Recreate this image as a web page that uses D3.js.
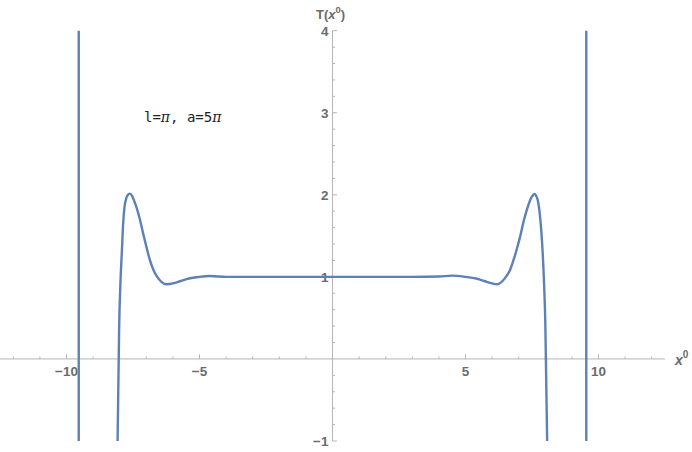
<!DOCTYPE html>
<html>
<head>
<meta charset="utf-8">
<script src="https://cdn.jsdelivr.net/npm/d3@7"></script>
<style>
  body { margin: 0; background: #fff; }
  svg { display: block; }
</style>
</head>
<body>
<div id="chart"></div>
<script>
// values
const centreX = [-8.08, -8.02, -7.97, -7.92, -7.87, -7.82, -7.76, -7.69, -7.62, -7.54, -7.45, -7.35,
    -7.24, -7.12, -6.99, -6.87, -6.74, -6.59, -6.43, -6.24, -6.0, -5.7, -5.4, -5.0, -4.6, -4.0,
    -3.0, -2.0, -1.0, 0, 1.0, 2.0, 3.0, 4.0, 4.5, 5.0, 5.4, 5.7, 6.0, 6.18, 6.36, 6.52, 6.67,
    6.8, 6.93, 7.06, 7.18, 7.3, 7.4, 7.5, 7.58, 7.65, 7.72, 7.78, 7.84, 7.9, 7.95, 8.0, 8.07];
const centreT = [-1.0, 0.4, 0.95, 1.3, 1.65, 1.85, 1.95, 2.0, 2.015, 1.99, 1.92, 1.83,
    1.7, 1.53, 1.36, 1.21, 1.09, 1.0, 0.94, 0.91, 0.92, 0.95, 0.98, 1.0, 1.01, 1.0,
    1.0, 1.0, 1.0, 1.0, 1.0, 1.0, 1.0, 1.005, 1.015, 1.0, 0.98, 0.95, 0.92, 0.91, 0.94, 1.0, 1.08,
    1.2, 1.34, 1.5, 1.67, 1.81, 1.91, 1.98, 2.01, 1.99, 1.93, 1.8, 1.6, 1.3, 0.95, 0.45, -1.0];
const poleX = [-9.54, 9.54];

const xTicks = [-10, -5, 5, 10];
const yTicks = [-1, 1, 2, 3, 4];

const width = 692;
const height = 452;

const x = d3.scaleLinear().domain([-12.5, 12.5]).range([0, 665]);
const y = d3.scaleLinear().domain([-1, 4]).range([441, 30.7]);

const svg = d3.select("#chart")
    .append("svg")
    .attr("width", width)
    .attr("height", height);

const axisColor = "#b5b5b5";
const labelColor = "#6b6b6b";

// x axis
const gx = svg.append("g");
gx.append("line")
    .attr("x1", x(-12.5)).attr("x2", x(12.5))
    .attr("y1", y(0)).attr("y2", y(0))
    .attr("stroke", axisColor);
gx.selectAll("line.minor")
    .data(d3.range(-12, 13).filter(d => d !== 0))
    .join("line")
    .attr("class", "minor")
    .attr("x1", d => x(d)).attr("x2", d => x(d))
    .attr("y1", y(0))
    .attr("y2", d => y(0) - (d % 5 === 0 ? 4.5 : 2.5))
    .attr("stroke", axisColor);
gx.selectAll("text")
    .data(xTicks)
    .join("text")
    .attr("x", d => x(d))
    .attr("y", y(0) + 17)
    .attr("text-anchor", "middle")
    .attr("font-family", "Liberation Sans, Arial, sans-serif")
    .attr("font-size", 13.5)
    .attr("font-weight", "bold")
    .attr("fill", labelColor)
    .text(d => d < 0 ? "\u2212" + Math.abs(d) : d);

// y axis
const gy = svg.append("g");
gy.append("line")
    .attr("x1", x(0)).attr("x2", x(0))
    .attr("y1", y(-1)).attr("y2", y(4))
    .attr("stroke", axisColor);
gy.selectAll("line.minor")
    .data(d3.range(-5, 21).map(d => d / 5).filter(d => d !== 0))
    .join("line")
    .attr("class", "minor")
    .attr("x1", x(0))
    .attr("x2", d => x(0) + (Math.abs(d - Math.round(d)) < 1e-9 ? 4.5 : 2.5))
    .attr("y1", d => y(d)).attr("y2", d => y(d))
    .attr("stroke", axisColor);
gy.selectAll("text")
    .data(yTicks)
    .join("text")
    .attr("x", x(0) - 4)
    .attr("y", d => y(d))
    .attr("dy", "0.36em")
    .attr("text-anchor", "end")
    .attr("font-family", "Liberation Sans, Arial, sans-serif")
    .attr("font-size", 13.5)
    .attr("font-weight", "bold")
    .attr("fill", labelColor)
    .text(d => d < 0 ? "\u2212" + Math.abs(d) : d);

// axis labels
const xl = svg.append("text")
    .attr("x", 675)
    .attr("y", 365)
    .attr("font-family", "Liberation Sans, Arial, sans-serif")
    .attr("font-size", 14)
    .attr("font-weight", "bold")
    .attr("fill", labelColor);
xl.append("tspan").attr("font-style", "italic").text("x");
xl.append("tspan").attr("dy", -7).attr("font-size", 10).text("0");

const yl = svg.append("text")
    .attr("x", 316)
    .attr("y", 19)
    .attr("font-family", "Liberation Sans, Arial, sans-serif")
    .attr("font-size", 13)
    .attr("font-weight", "bold")
    .attr("fill", labelColor);
yl.append("tspan").text("T(");
yl.append("tspan").attr("font-style", "italic").text("x");
yl.append("tspan").attr("dy", -6).attr("font-size", 9.5).text("0");
yl.append("tspan").attr("dy", 6).text(")");

// curve
const line = d3.line()
    .x(d => x(d[0]))
    .y(d => y(d[1]))
    .curve(d3.curveMonotoneX);

svg.append("path")
    .datum(d3.zip(centreX, centreT))
    .attr("fill", "none")
    .attr("stroke", "#5e81b5")
    .attr("stroke-width", 2.4)
    .attr("d", line);

svg.selectAll("line.pole")
    .data(poleX)
    .join("line")
    .attr("class", "pole")
    .attr("x1", d => x(d)).attr("x2", d => x(d))
    .attr("y1", y(4)).attr("y2", y(-1))
    .attr("stroke", "#5e81b5")
    .attr("stroke-width", 2.4);

// annotation
const note = svg.append("text")
    .attr("x", 144)
    .attr("y", 122)
    .attr("font-family", "DejaVu Sans Mono, monospace")
    .attr("font-size", 14)
    .attr("fill", "#222");
note.append("tspan").text("l=");
note.append("tspan").attr("font-family", "DejaVu Serif, serif").attr("font-style", "italic").text("\u03c0");
note.append("tspan").text(", a=5");
note.append("tspan").attr("font-family", "DejaVu Serif, serif").attr("font-style", "italic").text("\u03c0");
</script>
</body>
</html>
